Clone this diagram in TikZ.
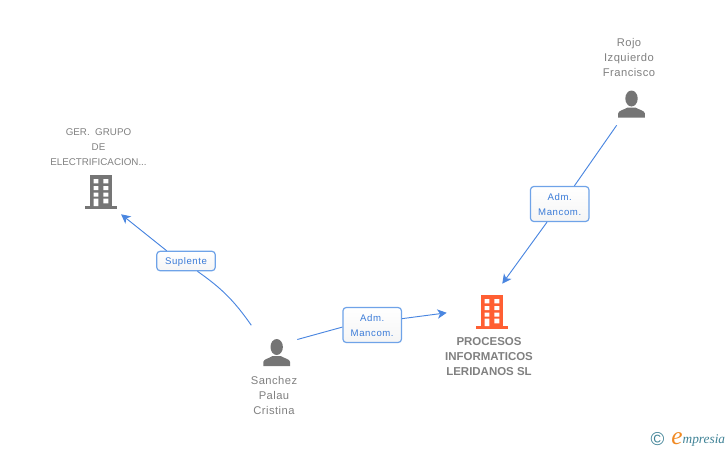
\documentclass[tikz,border=0pt]{standalone}
\usepackage{fontspec}
\setmainfont{Liberation Sans}
\newfontfamily\logofont{Liberation Serif}
\newfontfamily\spacedfont[LetterSpace=6]{Liberation Sans}
\newfontfamily\namefont[LetterSpace=4]{Liberation Sans}
\usetikzlibrary{arrows.meta}

\definecolor{nodegray}{HTML}{757575}
\definecolor{textgray}{HTML}{808080}
\definecolor{linkblue}{HTML}{4A86E0}
\definecolor{boxblue}{HTML}{6FA3E8}
\definecolor{tagblue}{HTML}{3A7BD8}
\definecolor{mainorange}{HTML}{FF5F33}
\definecolor{logoteal}{HTML}{3F8296}
\definecolor{logoorange}{HTML}{F08A24}

\tikzset{
  building/.pic={
    \fill[pic actions] (-11,-17) rectangle (11,14);
    \fill[pic actions] (-16,14) rectangle (16,17);
    \fill[white] (-7.3,-13) rectangle (-2.7,-8.7) (2.3,-13) rectangle (7.3,-8.7)
                 (-7.3,-6) rectangle (-2.7,-2) (2.3,-6) rectangle (7.3,-2)
                 (-7.3,.7) rectangle (-2.7,4.7) (2.3,.7) rectangle (7.3,4.7)
                 (-7.3,6.7) rectangle (-2.7,14) (2.3,6.7) rectangle (7.3,11.3);
  },
  person/.pic={
    \fill[pic actions] (0,-5.5) ellipse (6.2 and 8);
    \fill[pic actions] (-13.4,13.5) -- (-13.4,9.5) .. controls (-13,6.5) and (-8,6) .. (-4,3.5)
      -- (4,3.5) .. controls (8,6) and (13,6.5) .. (13.4,9.5) -- (13.4,13.5) -- cycle;
  },
  iconbox/.style 2 args={rectangle,inner sep=0pt,minimum width=#1*0.75pt,minimum height=#2*0.75pt},
  namelabel/.style={align=center,text=textgray,inner sep=0pt,font=\fontsize{8.4}{11.25}\namefont},
  firmlabel/.style={namelabel,font=\fontsize{7.35}{11.25}\selectfont},
  tagbox/.style={draw=boxblue,line width=0.9pt,rounded corners=2.5pt,top color=white,bottom color=black!4,
    text=tagblue,align=center,inner sep=0pt,minimum width=58.5*0.75pt,font=\fontsize{7.2}{11.25}\spacedfont},
  linkline/.style={draw=linkblue,line width=0.7pt},
  linkarrow/.style={linkline,-{Stealth[length=7pt,width=7pt,inset=2pt]}}
}

\begin{document}
\begin{tikzpicture}[x=0.75pt,y=-0.75pt]
  \useasboundingbox (0,0) rectangle (728,450);

  % Company on the left
  \node[iconbox={40}{44}] (grupo) at (101,192) {};
  \pic[fill=nodegray] at (grupo) {building};
  \node[firmlabel] (grupotext) at (98.5,146.7) {GER.\ \ GRUPO\\DE\\ELECTRIFICACION...};

  % Main company
  \node[iconbox={90}{56}] (procesos) at (492,312) {};
  \pic[fill=mainorange] at (procesos) {building};
  \node[namelabel,font=\fontsize{8.6}{11.25}\selectfont\bfseries] (procesostext) at (489,356.7) {PROCESOS\\INFORMATICOS\\LERIDANOS SL};

  % People
  \node[iconbox={52}{54}] (sanchez) at (276.7,352.5) {};
  \pic[fill=nodegray] at (sanchez) {person};
  \node[namelabel] (sancheztext) at (274,395.5) {Sanchez\\Palau\\Cristina};

  \node[iconbox={32}{42}] (rojo) at (631.5,104) {};
  \pic[fill=nodegray] at (rojo) {person};
  \node[namelabel] (rojotext) at (629,57.5) {Rojo\\Izquierdo\\Francisco};

  % Tags on the connectors
  \node[tagbox,text depth=0pt,minimum height=19.4*0.75pt] (suplente) at (186,261) {Suplente};
  \node[tagbox,text height=18pt,minimum height=35*0.75pt] (admsanchez) at (372.2,325) {Adm.\\Mancom.};
  \node[tagbox,text height=18pt,minimum height=35*0.75pt] (admrojo) at (559.7,204) {Adm.\\Mancom.};

  % Connectors
  \draw[linkline] (sanchez.133.6) to[bend right=10] (suplente.-42);
  \draw[linkarrow] (suplente.152) -- (grupo.-48);
  \draw[linkline,shorten <=-4.4pt] (sanchez.29.8) -- (admsanchez.184.5);
  \draw[linkarrow] (admsanchez.12.9) -- (procesos.181.6);
  \draw[linkline] (rojo) -- (admrojo.51.8);
  \draw[linkarrow] (admrojo.-125) -- (procesos.70.9);

  % Logo
  \node[inner sep=0pt,text=logoteal,font=\fontsize{14}{14}\selectfont] (copyright) at (657.5,439) {©};
  \node[inner sep=0pt,anchor=base west,text=logoorange,font=\fontsize{19}{19}\logofont\itshape] (logoe) at (671,444) {e};
  \node[inner sep=0pt,anchor=base west,text=logoteal,font=\fontsize{10}{11}\logofont\itshape] (logotext) at (682.4,443.5) {mpresia};
\end{tikzpicture}
\end{document}
